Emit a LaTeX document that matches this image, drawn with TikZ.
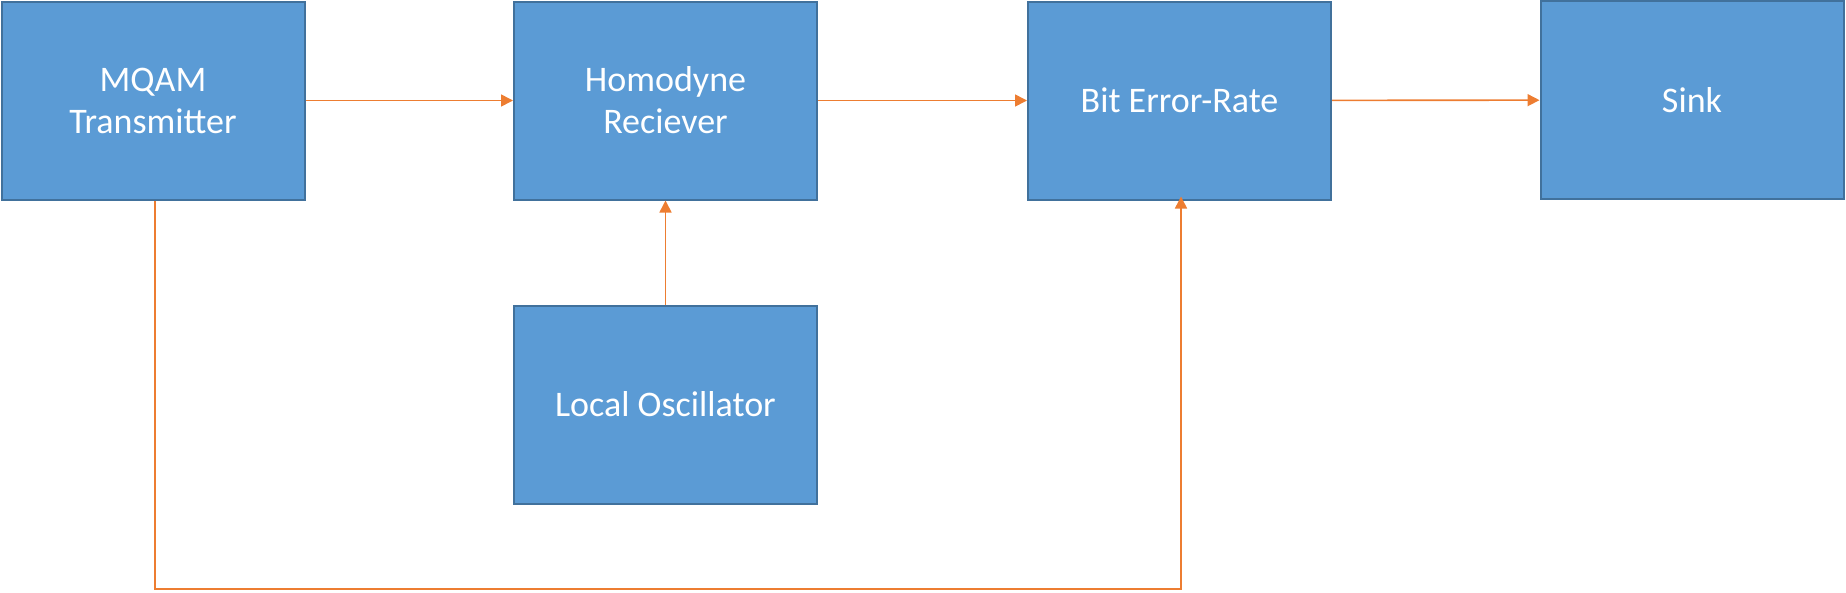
\documentclass[tikz,border=0pt]{standalone}
\usepackage{fontspec}
\setmainfont{Carlito}
\usetikzlibrary{arrows.meta}
\definecolor{boxfill}{HTML}{5B9BD5}
\definecolor{boxline}{HTML}{41719C}
\definecolor{wire}{HTML}{ED7D31}
\tikzset{
    every node/.style={rectangle, fill=boxfill, draw=boxline, line width=2pt,
    	minimum width=303pt, minimum height=198pt, align=center,
    	text=white, font=\fontsize{36}{42}\selectfont, inner sep=0pt}
}
\tikzset{
    link/.style={draw=wire, line width=1.6pt,
    	-{Triangle[length=12pt,width=12pt]}}
}

\begin{document}
\begin{tikzpicture}[x=1pt, y=-1pt]
	\useasboundingbox (0,0) rectangle (1846,592);
	\node (tx) at ( 153.0, 100.5) {MQAM\\Transmitter};
	\node (hr) at ( 665.5, 100.5) {Homodyne\\Reciever};
	\node (ber) at (1179.5, 100.5) {Bit Error-Rate};
	\node (sink) at (1692.0, 100.0) {Sink};
	\node (lo) at ( 665.5, 404.5) {Local Oscillator};
	\coordinate (turn) at (155.0, 589);
	
	\draw[link] (tx) -- (hr);
	\draw[link] (hr) -- (ber);
	\draw[link] (ber) -- (sink);
	\draw[link] (lo) -- (hr);
	\draw[link] (turn |- tx.south) -- (turn) -| ([xshift=1.5pt, yshift=4pt]ber.south);
\end{tikzpicture}
\end{document}
